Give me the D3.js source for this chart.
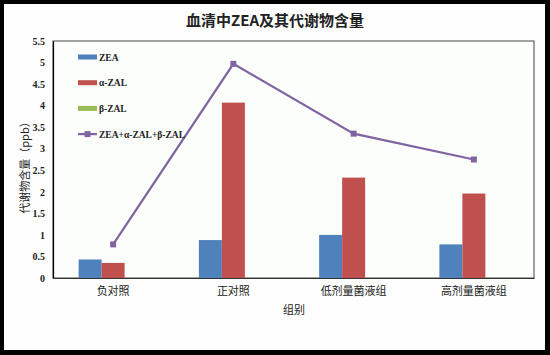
<!DOCTYPE html>
<html><head><meta charset="utf-8">
<script src="https://cdn.jsdelivr.net/npm/d3@7"></script>
<style>body{margin:0;background:#000}svg{display:block}</style>
</head><body><svg id="c" width="550" height="355"></svg>
<script>
const categories = ["负对照", "正对照", "低剂量菌液组", "高剂量菌液组"];
const seriesNames = ["ZEA", "α-ZAL", "β-ZAL"];
const zea = [0.43, 0.88, 1.0, 0.78];
const aZal = [0.35, 4.07, 2.33, 1.96];
const bZal = [0, 0, 0, 0];
const total = [0.78, 4.97, 3.35, 2.75];
const yTicks = [0, 0.5, 1, 1.5, 2, 2.5, 3, 3.5, 4, 4.5, 5, 5.5];
const colors = ["#4f81bd", "#c0504d", "#9bbb59"];
const lineColor = "#8064a2";

const svg = d3.select("#c");
svg.append("rect").attr("x",0).attr("y",0).attr("width",550).attr("height",355).attr("fill","#000");
svg.append("rect").attr("x",4).attr("y",4).attr("width",541).attr("height",346).attr("fill","#fdfefd");

const L=53, R=534, T=41, B=278;
const x = d3.scaleBand().domain(categories).range([L,R]).paddingInner(0).paddingOuter(0);
const y = d3.scaleLinear().domain([0,5.5]).range([B,T]);
const barW = 23;
const serif = "'Liberation Serif','DejaVu Serif',serif";
const cjk = "'Noto Sans CJK SC','Noto Sans',sans-serif";

svg.append("text").attr("x",275).attr("y",26).attr("text-anchor","middle")
  .attr("font-family",cjk).attr("font-weight","bold").attr("font-size",15).attr("fill","#222")
  .text("血清中ZEA及其代谢物含量");

// plot border
svg.append("rect").attr("x",L).attr("y",T).attr("width",R-L).attr("height",B-T)
  .attr("fill","#fcfefc").attr("stroke","#444").attr("stroke-width",1);

const data = [zea, aZal, bZal];
data.forEach((vals,si)=>{
  svg.append("g").selectAll("rect").data(vals).join("rect")
    .attr("x",(d,i)=>x(categories[i])+x.bandwidth()/2 - 1.5*barW + si*barW)
    .attr("y",d=>y(d)).attr("width",barW).attr("height",d=>y(0)-y(d))
    .attr("fill",colors[si]);
});

const line = d3.line().x((d,i)=>x(categories[i])+x.bandwidth()/2).y(d=>y(d));
svg.append("path").attr("d",line(total)).attr("fill","none").attr("stroke",lineColor).attr("stroke-width",2.2);
svg.append("g").selectAll("rect").data(total).join("rect")
  .attr("x",(d,i)=>x(categories[i])+x.bandwidth()/2-3).attr("y",d=>y(d)-3)
  .attr("width",6).attr("height",6).attr("fill",lineColor);

// axes
const yAxis = d3.axisLeft(y).tickValues(yTicks).tickSize(0).tickPadding(8).tickFormat(d=>String(d));
const gy = svg.append("g").attr("transform",`translate(${L},0)`).call(yAxis);
gy.select(".domain").attr("stroke","#000").attr("stroke-width",1.2);
gy.selectAll("text").attr("font-family",serif).attr("font-weight","bold").attr("font-size",10).attr("fill","#222");

const xAxis = d3.axisBottom(x).tickSize(0).tickPadding(9);
const gx = svg.append("g").attr("transform",`translate(0,${B})`).call(xAxis);
gx.select(".domain").attr("stroke","#333").attr("stroke-width",1.2);
gx.selectAll("text").attr("font-family",cjk).attr("font-size",11).attr("fill","#222");

svg.append("text").attr("x",294).attr("y",314).attr("text-anchor","middle")
  .attr("font-family",cjk).attr("font-size",11).attr("fill","#222").text("组别");
svg.append("text").attr("transform","translate(29,165) rotate(-90)").attr("text-anchor","middle")
  .attr("font-family",cjk).attr("font-size",11).attr("fill","#222").text("代谢物含量（ppb）");

// legend
const legendItems = ["ZEA","α-ZAL","β-ZAL","ZEA+α-ZAL+β-ZAL"];
const lg = svg.append("g");
legendItems.forEach((name,i)=>{
  const yy = 57 + i*25.7;
  if(i<3){
    lg.append("rect").attr("x",78).attr("y",yy-2.5).attr("width",19).attr("height",5).attr("fill",colors[i]);
  } else {
    lg.append("line").attr("x1",78).attr("x2",97).attr("y1",yy).attr("y2",yy).attr("stroke",lineColor).attr("stroke-width",2.2);
    lg.append("rect").attr("x",84.5).attr("y",yy-3).attr("width",6).attr("height",6).attr("fill",lineColor);
  }
  lg.append("text").attr("x",99).attr("y",yy+3.5).attr("font-family",serif).attr("font-weight","bold")
    .attr("font-size",9.5).attr("fill","#222").text(name);
});
</script></body></html>
